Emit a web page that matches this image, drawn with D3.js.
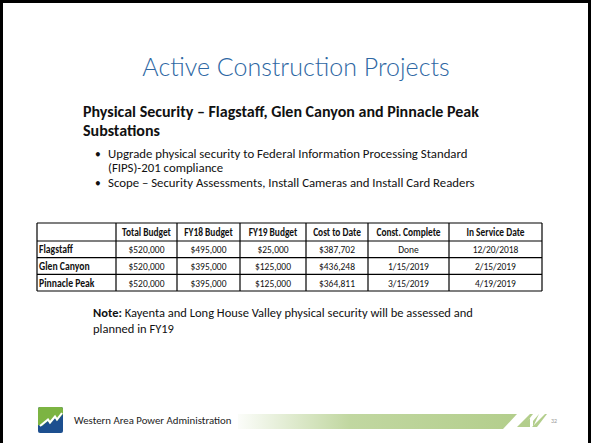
<!DOCTYPE html>
<html>
<head>
<meta charset="utf-8">
<script src="https://cdn.jsdelivr.net/npm/d3@7"></script>
<style>
  html, body { margin: 0; padding: 0; background: #fff; }
  svg { display: block; }
  text { font-family: Carlito, "Liberation Sans", "DejaVu Sans", sans-serif; fill: #111; }
</style>
</head>
<body>
<svg id="slide" width="591" height="443"></svg>
<script>
// Slide text
var title = "Active Construction Projects";
var subtitleLines = ["Physical Security \u2013 Flagstaff, Glen Canyon and Pinnacle Peak", "Substations"];
var bulletLines = [
    ["Upgrade physical security to Federal Information Processing Standard", "(FIPS)-201 compliance"],
    ["Scope \u2013 Security Assessments, Install Cameras and Install Card Readers"]
];
var noteLines = ["Kayenta and Long House Valley physical security will be assessed and", "planned in FY19"];
var footerText = "Western Area Power Administration";
var pageNumber = "32";

// Table data
var columns = ["", "Total Budget", "FY18 Budget", "FY19 Budget", "Cost to Date", "Const. Complete", "In Service Date"];
var substations = ["Flagstaff", "Glen Canyon", "Pinnacle Peak"];
var totalBudget = [520000, 520000, 520000];
var fy18Budget = [495000, 395000, 395000];
var fy19Budget = [25000, 125000, 125000];
var costToDate = [387702, 436248, 364811];
var constComplete = ["Done", "1/15/2019", "3/15/2019"];
var inServiceDate = ["12/20/2018", "2/15/2019", "4/19/2019"];

var money = d3.format("$,.0f");
var svg = d3.select("#slide");

// slide frame (top, left, right edges)
svg.append("path")
    .attr("d", "M1.5,443 V1.5 H589.5 V443")
    .attr("fill", "none")
    .attr("stroke", "#000")
    .attr("stroke-width", 3);

// squeeze text horizontally, like the narrow font in the table
function condense(sel, k) {
    sel.each(function () {
        var w = this.getComputedTextLength();
        d3.select(this).attr("textLength", w * k).attr("lengthAdjust", "spacingAndGlyphs");
    });
}

svg.append("text")
    .attr("x", 296).attr("y", 76)
    .attr("text-anchor", "middle")
    .attr("font-size", 25)
    .style("font-family", "Lato, Carlito, sans-serif")
    .style("font-weight", 300)
    .style("fill", "#2e67a3")
    .text(title);

subtitleLines.forEach(function (line, i) {
    svg.append("text")
        .attr("x", 83).attr("y", 116.5 + i * 19.5)
        .attr("font-size", 16).attr("font-weight", "bold")
        .text(line);
});

// bullets
var bulletY = [158, 187];
bulletLines.forEach(function (lines, i) {
    svg.append("text")
        .attr("x", 95).attr("y", bulletY[i])
        .attr("font-size", 11.5)
        .text("\u2022");
    lines.forEach(function (line, j) {
        svg.append("text")
            .attr("x", 108).attr("y", bulletY[i] + j * 14)
            .attr("font-size", 12.8)
            .text(line);
    });
});

// table
var edges = [37, 116, 177, 240, 306, 368, 449, 542];
var x = d3.scaleOrdinal().domain(columns).range(edges.slice(0, -1));
var colW = function (c) { var i = columns.indexOf(c); return edges[i + 1] - edges[i]; };
var headTop = 223, headBottom = 241;
var y = d3.scaleBand().domain(substations).range([headBottom, 291]);

var rows = substations.map(function (s, i) {
    return [s, money(totalBudget[i]), money(fy18Budget[i]), money(fy19Budget[i]),
            money(costToDate[i]), constComplete[i], inServiceDate[i]];
});

var table = svg.append("g");

// header cells
table.selectAll("text.head")
    .data(columns.slice(1))
    .enter().append("text")
    .attr("class", "head")
    .attr("x", function (d) { return x(d) + colW(d) / 2; })
    .attr("y", (headTop + headBottom) / 2 + 4)
    .attr("text-anchor", "middle")
    .attr("font-size", 11.2)
    .attr("font-weight", "bold")
    .text(function (d) { return d; })
    .call(condense, 0.84);

var rowG = table.selectAll("g.row")
    .data(rows)
    .enter().append("g")
    .attr("class", "row")
    .attr("transform", function (d) { return "translate(0," + (y(d[0]) + y.bandwidth() / 2 + 4) + ")"; });

rowG.selectAll("text")
    .data(function (d) { return d; })
    .enter().append("text")
    .attr("x", function (d, i) { return i === 0 ? edges[0] + 2 : (edges[i] + edges[i + 1]) / 2; })
    .attr("text-anchor", function (d, i) { return i === 0 ? "start" : "middle"; })
    .attr("font-size", 11)
    .attr("font-weight", function (d, i) { return i === 0 ? "bold" : "normal"; })
    .text(function (d) { return d; })
    .each(function (d, i) { d3.select(this).call(condense, i === 0 ? 0.88 : 0.86); });

// grid lines
var hLines = [headTop, headBottom].concat(substations.map(function (s) { return y(s) + y.bandwidth(); }));
table.selectAll("line.h")
    .data(hLines)
    .enter().append("line")
    .attr("x1", edges[0]).attr("x2", edges[edges.length - 1])
    .attr("y1", function (d) { return d; }).attr("y2", function (d) { return d; })
    .attr("stroke", "#000").attr("stroke-width", 1.2);
table.selectAll("line.v")
    .data(edges)
    .enter().append("line")
    .attr("x1", function (d) { return d; }).attr("x2", function (d) { return d; })
    .attr("y1", headTop).attr("y2", hLines[hLines.length - 1])
    .attr("stroke", "#000").attr("stroke-width", 1.2);

// note
var note = svg.append("text").attr("x", 93).attr("y", 317).attr("font-size", 12.5);
note.append("tspan").attr("font-weight", "bold").text("Note: ");
note.append("tspan").text(noteLines[0]);
svg.append("text").attr("x", 93).attr("y", 333).attr("font-size", 12.5).text(noteLines[1]);

// footer: logo
var logo = svg.append("g").attr("transform", "translate(38,407)");
logo.append("rect").attr("width", 25).attr("height", 26).attr("rx", 2).attr("fill", "#1d4f8f");
logo.append("path")
    .attr("d", "M0,2 Q0,0 2,0 H23 Q25,0 25,2 V7 L19,14 L17,11 L12,17 L10,14 L4,19 L0,18 Z")
    .attr("fill", "#7cb442");
logo.append("path")
    .attr("d", "M2,19 L10,12.5 L12,15.5 L17,9.5 L19,12.5 L24,6")
    .attr("fill", "none").attr("stroke", "#fff").attr("stroke-width", 2);

svg.append("text")
    .attr("x", 74).attr("y", 424)
    .attr("font-size", 10.8)
    .style("fill", "#222")
    .text(footerText);

// footer: green band
var grad = svg.append("defs").append("linearGradient")
    .attr("id", "band").attr("x1", "0").attr("x2", "1");
grad.append("stop").attr("offset", "0").attr("stop-color", "#b6d090").attr("stop-opacity", 0.05);
grad.append("stop").attr("offset", "0.4").attr("stop-color", "#b6d090").attr("stop-opacity", 0.85);
grad.append("stop").attr("offset", "1").attr("stop-color", "#b3ce8c").attr("stop-opacity", 1);

svg.append("path")
    .attr("d", "M238,414 H517 L503,429 H238 Z")
    .attr("fill", "url(#band)");
svg.append("path").attr("d", "M517,427 L530,414 L533,414 L523,427 Z").attr("fill", "#b3ce8c");
svg.append("path").attr("d", "M521,427 L530,418 L530,427 Z").attr("fill", "#b3ce8c");
svg.append("path").attr("d", "M532,427 L545,414 L547,414 L537,427 Z").attr("fill", "#b3ce8c");
svg.append("path").attr("d", "M533,427 L533,421 L539,414 Z").attr("fill", "#b3ce8c");

svg.append("text")
    .attr("x", 551).attr("y", 423)
    .attr("font-size", 6)
    .style("fill", "#999")
    .text(pageNumber);
</script>
</body>
</html>
